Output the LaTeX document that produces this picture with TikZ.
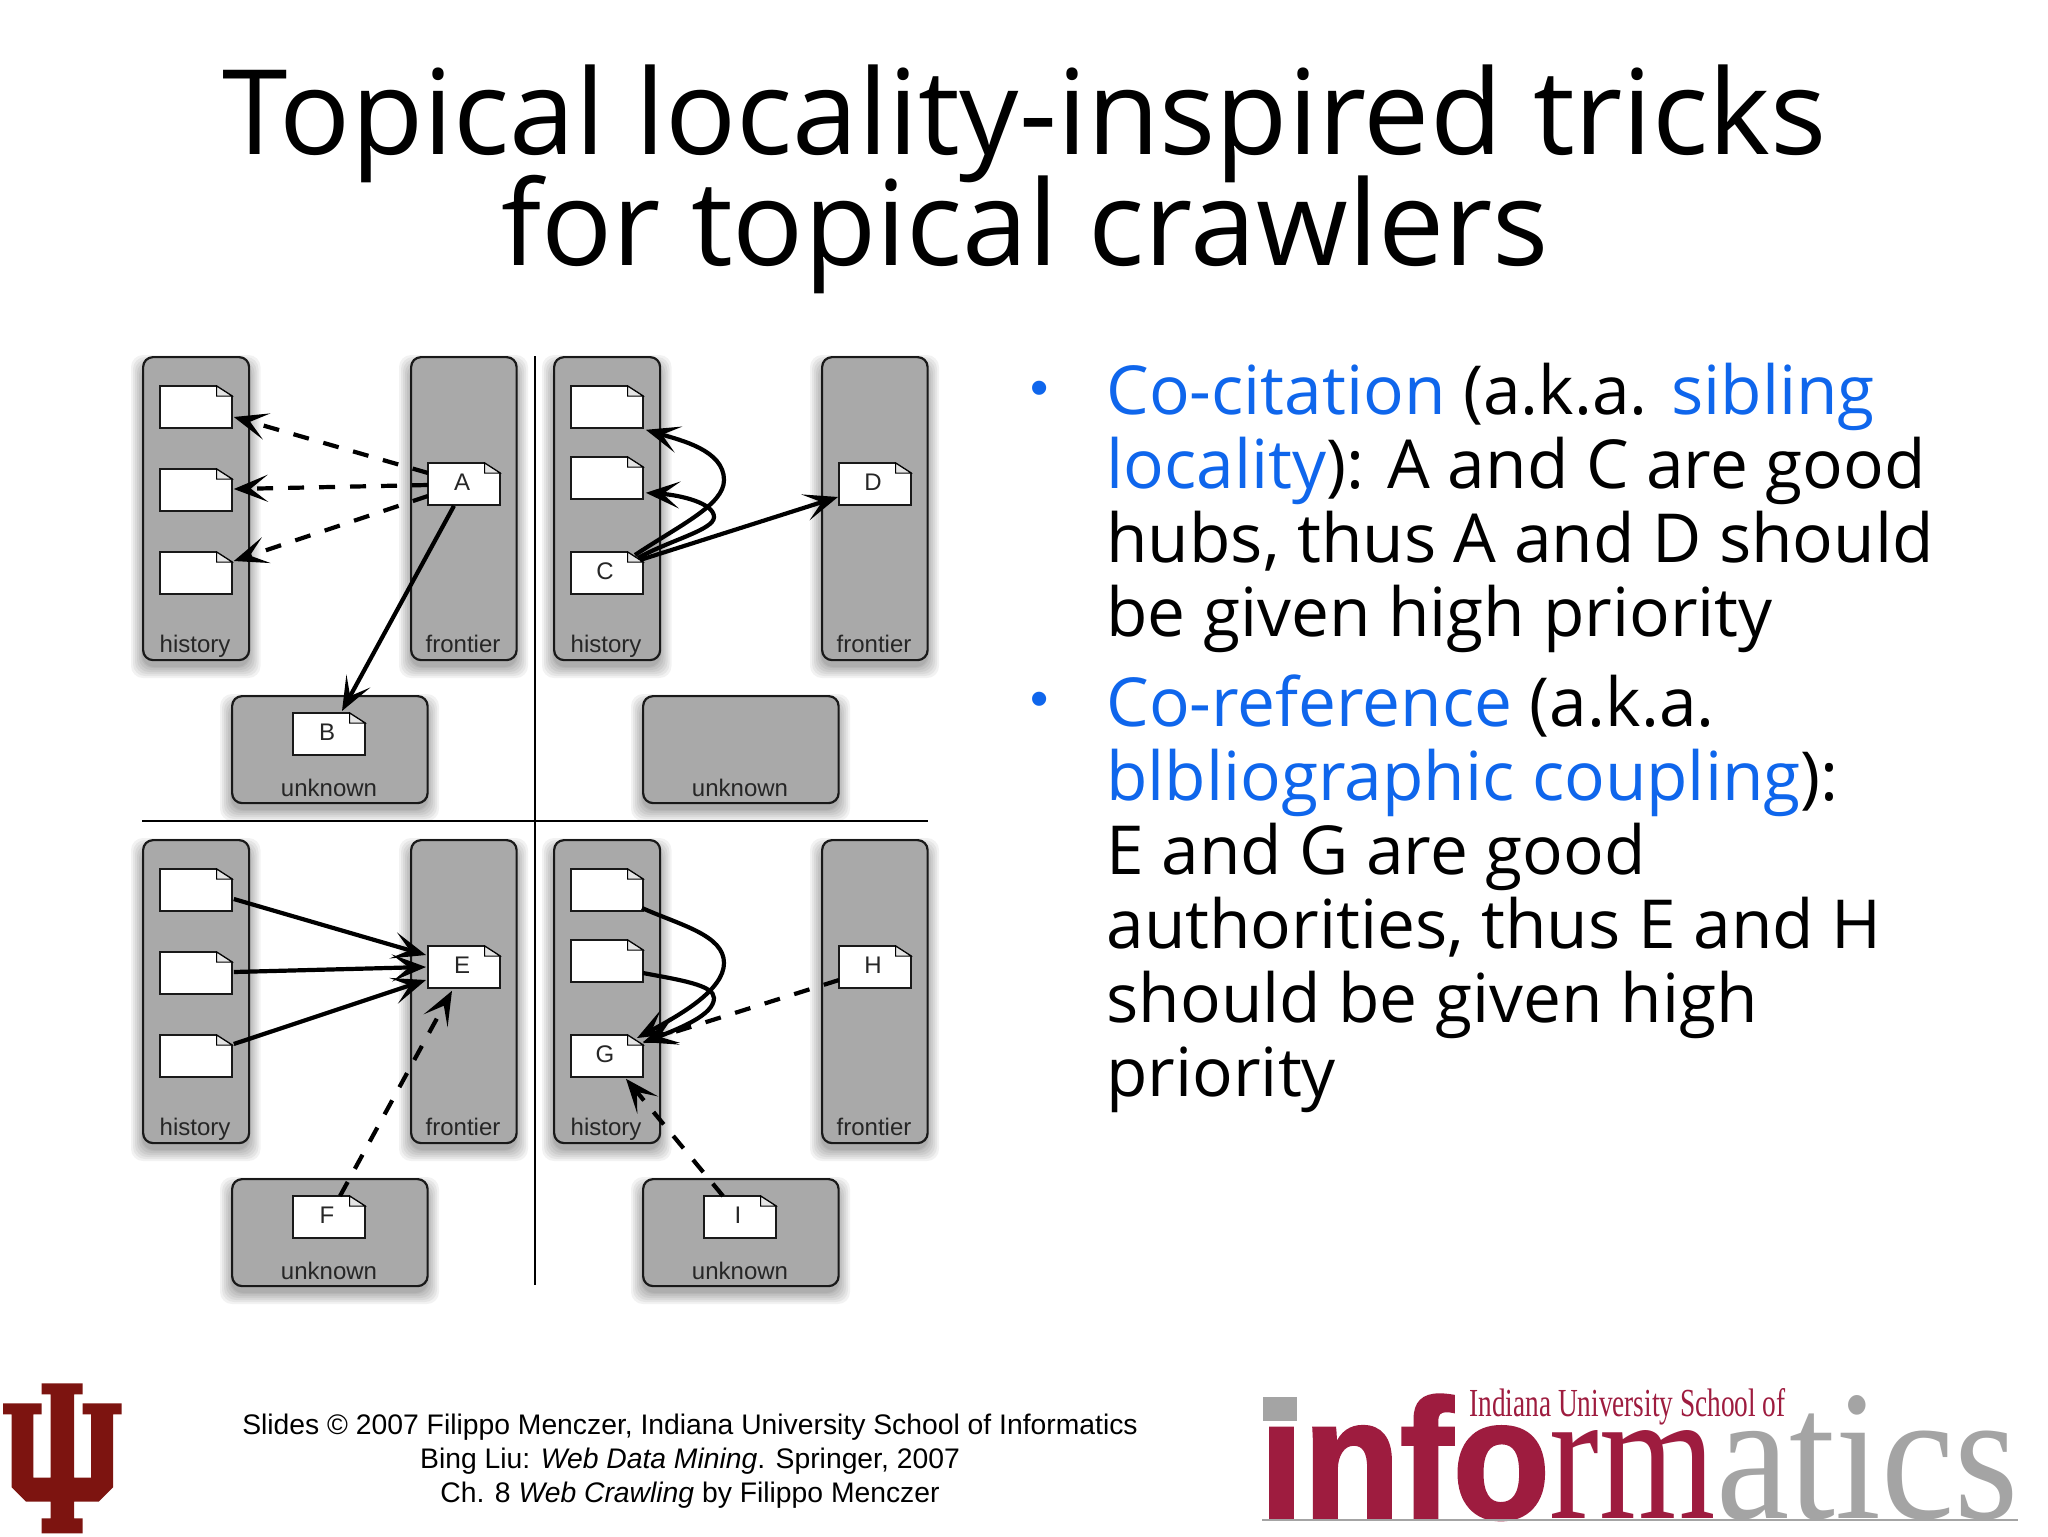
\documentclass[tikz,border=0pt]{standalone}
\usepackage{fontspec}
\usepackage{graphicx}
\usetikzlibrary{arrows.meta,calc}
\setmainfont{Liberation Sans}
\newfontfamily\slidefont{Open Sans}
\newfontfamily\seriffont{Liberation Serif}
\newfontfamily\logobold[FakeBold=2]{Liberation Sans Bold}
\lineskiplimit=-100pt
\definecolor{boxgray}{HTML}{A9A9A9}
\definecolor{slideblue}{HTML}{0F66EC}
\definecolor{iured}{HTML}{7D1410}
\definecolor{logored}{HTML}{9E1C3F}
\definecolor{logogray}{HTML}{A4A4A4}
\tikzset{
  panel/.style={draw=black!90,fill=boxgray,line width=1.1pt,rounded corners=5pt},
  lab/.style={font=\fontsize{12}{12}\selectfont,inner sep=0pt,anchor=base,text=black!85},
  solidarrow/.style={line width=2.1pt,-{Stealth[length=17pt,width=13.5pt,inset=8.5pt]},black},
  dasharrow/.style={solidarrow,dash pattern=on 8pt off 7.5pt},
  divider/.style={line width=1pt,black},
  slidetext/.style={font=\slidefont\fontsize{33.8}{37}\selectfont,anchor=base west,align=left,inner sep=0pt},
  footer/.style={font=\fontsize{14.15}{16.8}\selectfont,inner sep=0pt,anchor=base,align=center},
  logopiece/.style={inner sep=0pt,anchor=base west},
  bulletmark/.style={font=\fontsize{26}{26}\selectfont,text=slideblue,inner sep=0pt,anchor=center},
}
% shadowed box: \shbox{name}{x0}{y0}{x1}{y1}
\newcommand{\shbox}[5]{%
  \foreach \g in {11,9,7,5,3,1,0}{%
    \fill[black,opacity=0.05,rounded corners=6pt]
      ({#2-\g},{#3+10-\g}) rectangle ({#4+\g},{#5+7+\g});}
  \node[panel,minimum width={(#4-#2-1.5)*0.5pt},minimum height={(#5-#3-1)*0.5pt},inner sep=0pt,anchor=north west] (#1) at (#2,#3) {};
}
% document icon: \docicon{name}{x0}{y0}{label}
\newcommand{\docicon}[4]{%
  \fill[white,draw=black!90,line width=0.8pt] ({#2+1},#3) -- ({#2+57.5},#3) -- ({#2+73},{#3+10}) -- ({#2+73},{#3+42}) -- ({#2+1},{#3+42}) -- cycle;
  \draw[fill=black!10,line width=0.5pt] ({#2+57.5},#3) -- ({#2+57.5},{#3+10}) -- ({#2+73},{#3+10}) -- cycle;
  \node[inner sep=0pt,minimum width=36pt,minimum height=21pt,anchor=north west] (#1) at ({#2+1},#3) {};
  \node[lab] (#1lab) at ({#2+35},{#3+27}) {#4};
}
\begin{document}
\begin{tikzpicture}[x=0.5pt,y=-0.5pt]
\useasboundingbox (0,0) rectangle (2048,1536);
\fill[white] (0,0) rectangle (2048,1536);

% title
\node[font=\slidefont\fontsize{59}{55.5}\selectfont,align=center,anchor=base,inner sep=0pt] (title) at (1025,265)
  {Topical locality-inspired tricks\\for topical crawlers};

% dividers
\coordinate (vtop) at (535,356); \coordinate (vbot) at (535,1285);
\coordinate (hl) at (142,821); \coordinate (hr) at (928,821);
\draw[divider] (vtop) -- (vbot);
\draw[divider] (hl) -- (hr);

% boxes
\shbox{h1}{142}{356}{249.5}{660}
\shbox{f1}{410}{356}{517}{660}
\shbox{u1}{231}{695}{428}{803}
\shbox{h2}{553}{356}{660.5}{660}
\shbox{f2}{821}{356}{928}{660}
\shbox{u2}{642}{695}{839}{803}
\shbox{h3}{142}{839}{249.5}{1143}
\shbox{f3}{410}{839}{517}{1143}
\shbox{u3}{231}{1178}{428}{1286}
\shbox{h4}{553}{839}{660.5}{1143}
\shbox{f4}{821}{839}{928}{1143}
\shbox{u4}{642}{1178}{839}{1286}

% box labels
\node[lab] (lh1) at (195,652) {history};
\node[lab] (lf1) at (463,652) {frontier};
\node[lab] (lu1) at (329,796) {unknown};
\node[lab] (lh2) at (606,652) {history};
\node[lab] (lf2) at (874,652) {frontier};
\node[lab] (lu2) at (740,796) {unknown};
\node[lab] (lh3) at (195,1135) {history};
\node[lab] (lf3) at (463,1135) {frontier};
\node[lab] (lu3) at (329,1279) {unknown};
\node[lab] (lh4) at (606,1135) {history};
\node[lab] (lf4) at (874,1135) {frontier};
\node[lab] (lu4) at (740,1279) {unknown};

% documents
\docicon{p1a}{159}{386}{}
\docicon{p1b}{159}{469}{}
\docicon{p1c}{159}{552}{}
\docicon{A}{427}{463}{A}
\docicon{B}{292}{713}{B}
\docicon{p2a}{570}{386}{}
\docicon{p2b}{570}{457}{}
\docicon{C}{570}{552}{C}
\docicon{D}{838}{463}{D}
\docicon{p3a}{159}{869}{}
\docicon{p3b}{159}{952}{}
\docicon{p3c}{159}{1035}{}
\docicon{E}{427}{946}{E}
\docicon{F}{292}{1196}{F}
\docicon{p4a}{570}{869}{}
\docicon{p4b}{570}{940}{}
\docicon{G}{570}{1035}{G}
\docicon{H}{838}{946}{H}
\docicon{I}{703}{1196}{I}

% panel 1 connectors
\draw[dasharrow] ([shift={(0,10)}]A.north west) -- ([shift={(1,31)}]p1a.north east);
\draw[dasharrow] ([shift={(0,22)}]A.north west) -- ([shift={(1,20)}]p1b.north east);
\draw[dasharrow] ([shift={(0,33)}]A.north west) -- ([shift={(1,9)}]p1c.north east);
\draw[solidarrow] ([shift={(26,0)}]A.south west) -- ([shift={(49,-2)}]B.north west);

% panel 2 connectors
\draw[solidarrow] ([shift={(64,3)}]C.north west) .. controls (680,525) and (724,505) .. (724,480) .. controls (724,450) and (680,440) .. ([shift={(2,1)}]p2a.south east);
\draw[solidarrow] ([shift={(67,6)}]C.north west) .. controls (670,540) and (714,530) .. (714,517) .. controls (714,503) and (680,495) .. ([shift={(2,-7)}]p2b.south east);
\draw[solidarrow] ([shift={(69,8)}]C.north west) -- ([shift={(-1,34)}]D.north west);

% panel 3 connectors
\draw[solidarrow] ([shift={(1,30)}]p3a.north east) -- ([shift={(-2,9)}]E.north west);
\draw[solidarrow] ([shift={(1,20)}]p3b.north east) -- ([shift={(-2,21)}]E.north west);
\draw[solidarrow] ([shift={(1,9)}]p3c.north east) -- ([shift={(-2,34)}]E.north west);
\draw[dasharrow] ([shift={(47,0)}]F.north west) -- ([shift={(24,2)}]E.south west);

% panel 4 connectors
\draw[solidarrow] ([shift={(71,39)}]p4a.north west) .. controls (680,925) and (724,935) .. (724,963) .. controls (724,990) and (680,1015) .. ([shift={(66,3)}]G.north west);
\draw[solidarrow] ([shift={(72,33)}]p4b.north west) .. controls (680,980) and (714,985) .. (714,998) .. controls (714,1015) and (680,1028) .. ([shift={(72,8)}]G.north west);
\draw[dasharrow] ([shift={(0,34)}]H.north west) -- ([shift={(72,7)}]G.north west);
\draw[dasharrow] ([shift={(19,0)}]I.north west) -- ([shift={(55,1)}]G.south west);

% right text
\node[bulletmark] (b1) at (1040,393) {•};
\node[bulletmark] (b2) at (1040,704) {•};
\node[slidetext] (t1) at (1106,636) {\textcolor{slideblue}{Co-citation} (a.k.a. \textcolor{slideblue}{sibling}\\
\textcolor{slideblue}{locality}): A and C are good\\
hubs, thus A and D should\\
be given high priority};
\node[slidetext] (t2) at (1106,1096) {\textcolor{slideblue}{Co-reference} (a.k.a.\\
\textcolor{slideblue}{blbliographic coupling}):\\
E and G are good\\
authorities, thus E and H\\
should be given high\\
priority};

% footer
\node[footer] (foot) at (690,1502) {Slides © 2007 Filippo Menczer, Indiana University School of Informatics\\
Bing Liu: \textit{Web Data Mining}. Springer, 2007\\
Ch. 8 \textit{Web Crawling} by Filippo Menczer};

% IU logo
\begin{scope}[shift={(0,1370)},x=0.1667pt,y=-0.1667pt]
\fill[iured] (125,40) -- (248,40) -- (248,73) -- (222,73) -- (222,323) -- (273,323) -- (273,133) -- (248,133) -- (248,100) -- (365,100) -- (365,133) -- (339,133) -- (339,352) -- (296,395) -- (222,395) -- (222,445) -- (248,445) -- (248,490) -- (125,490) -- (125,445) -- (152,445) -- (152,395) -- (78,395) -- (35,352) -- (35,133) -- (9,133) -- (9,100) -- (125,100) -- (125,133) -- (100,133) -- (100,323) -- (152,323) -- (152,73) -- (125,73) -- cycle;
\end{scope}

% informatics logo
\fill[logogray] (1263,1397) rectangle (1297,1421);
\node[logopiece] (lgi) at (1259,1518) {\resizebox{145pt}{61.5pt}{\textcolor{logored}{\logobold ınfo}}};
\node[logopiece] (lgr) at (1549,1518) {\resizebox{83pt}{44pt}{\textcolor{logored}{\seriffont rm}}};
\node[logopiece] (lga) at (1716,1518) {\resizebox{151pt}{61.5pt}{\textcolor{logogray}{\seriffont atics}}};
\node[logopiece] (lgt) at (1469,1416) {\resizebox{158pt}{14pt}{\textcolor{logored}{\seriffont Indiana University School of}}};
\coordinate (ll) at (1262,1520); \coordinate (lr) at (2018,1520);
\draw[logogray,line width=0.7pt] (ll) -- (lr);
\end{tikzpicture}
\end{document}
